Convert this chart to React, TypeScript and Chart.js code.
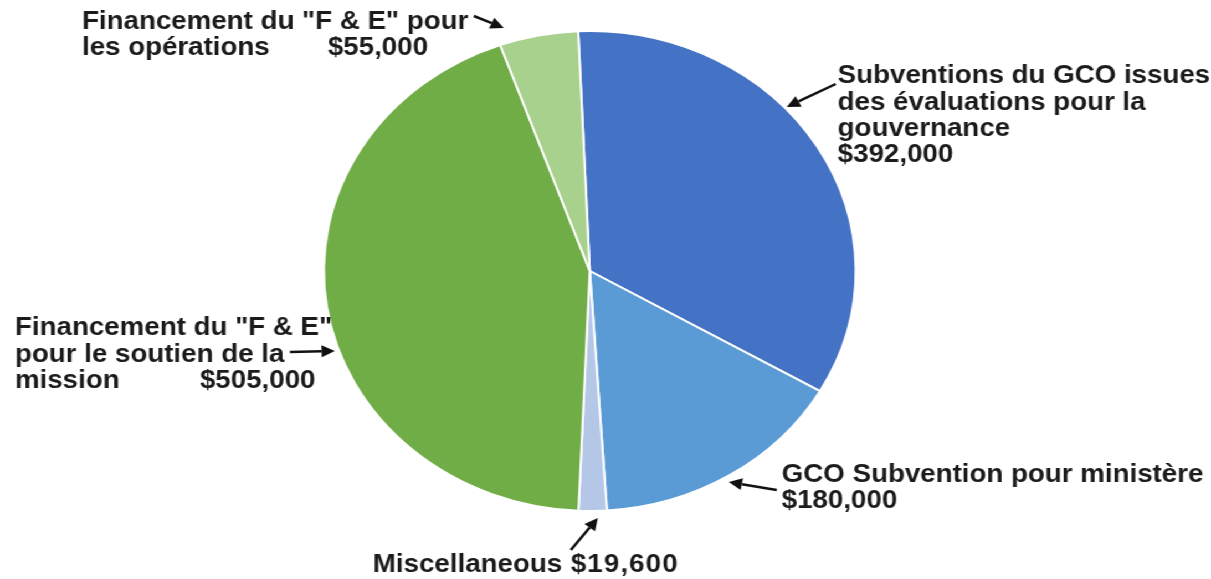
import React, { useEffect, useRef } from "react";
import { Chart, registerables } from "chart.js";

Chart.register(...registerables);

// ---- data ----
const categories = [
  "Subventions du GCO issues des évaluations pour la gouvernance",
  "GCO Subvention pour ministère",
  "Miscellaneous",
  'Financement du "F & E" pour le soutien de la mission',
  'Financement du "F & E" pour les opérations',
];
const values = [392000, 180000, 19600, 505000, 55000];
const sliceColors = ["#4472C4", "#5B9BD5", "#B4C7E7", "#70AD47", "#A9D18E"];

// label text lines per slice ({v} = formatted value)
const labelLines: string[][] = [
  ["Subventions du GCO issues", "des évaluations pour la", "gouvernance", "{v}"],
  ["GCO Subvention pour ministère", "{v}"],
  ["Miscellaneous"],
  ['Financement du "F & E"', "pour le soutien de la", "mission"],
  ['Financement du "F & E" pour', "les opérations"],
];

// ---- layout (image pixel space) ----
const VIEW_W = 1211;
const VIEW_H = 579;
const SX = 266 / 240; // horizontal stretch of the reference
const CW = Math.round(VIEW_W / SX);

type Txt = { x: number; y: number };
const labelPos: Txt[][] = [
  [
    { x: 838, y: 83 },
    { x: 838, y: 110 },
    { x: 838, y: 136 },
    { x: 838, y: 162 },
  ],
  [
    { x: 782, y: 482 },
    { x: 782, y: 508 },
  ],
  [{ x: 373, y: 572 }],
  [
    { x: 15, y: 335 },
    { x: 15, y: 362 },
    { x: 15, y: 388 },
  ],
  [
    { x: 82, y: 29 },
    { x: 82, y: 55 },
  ],
];
// value texts placed separately
const valueExtra: { idx: number; x: number; y: number; ls: number }[] = [
  { idx: 2, x: 571, y: 572, ls: 1 },
  { idx: 3, x: 200, y: 388, ls: 0 },
  { idx: 4, x: 328, y: 55, ls: 0 },
];
const arrows: number[][] = [
  [836, 84, 787, 107],
  [777, 490, 729, 482],
  [571, 550, 598, 518],
  [290, 352, 335, 351],
  [474, 16, 504, 28],
];

const fmt = (v: number) => "$" + v.toLocaleString("en-US");

const labelPlugin = {
  id: "calloutLabels",
  afterDraw(chart: any) {
    const ctx = chart.ctx as CanvasRenderingContext2D;
    ctx.save();
    ctx.fillStyle = "#1b1b1b";
    ctx.strokeStyle = "#111";
    ctx.font = 'bold 25px "Liberation Sans", Arial, sans-serif';
    ctx.textBaseline = "alphabetic";
    ctx.textAlign = "left";
    labelLines.forEach((lines, i) => {
      lines.forEach((t, j) => {
        const p = labelPos[i][j];
        const txt = t.replace("{v}", fmt(values[i]));
        ctx.fillText(txt, p.x / SX, p.y);
      });
    });
    valueExtra.forEach((e) => {
      (ctx as any).letterSpacing = e.ls + "px";
      ctx.fillText(fmt(values[e.idx]), e.x / SX, e.y);
    });
    (ctx as any).letterSpacing = "0px";
    // arrows
    arrows.forEach(([x1, y1, x2, y2]) => {
      const ax = x1 / SX, ay = y1, bx = x2 / SX, by = y2;
      const ang = Math.atan2(by - ay, bx - ax);
      const hl = 12, hw = 6;
      const baseX = bx - Math.cos(ang) * hl;
      const baseY = by - Math.sin(ang) * hl;
      ctx.lineWidth = 2.5;
      ctx.beginPath();
      ctx.moveTo(ax, ay);
      ctx.lineTo(baseX, baseY);
      ctx.stroke();
      ctx.beginPath();
      ctx.moveTo(bx, by);
      ctx.lineTo(baseX - Math.sin(ang) * hw, baseY + Math.cos(ang) * hw);
      ctx.lineTo(baseX + Math.sin(ang) * hw, baseY - Math.cos(ang) * hw);
      ctx.closePath();
      ctx.fillStyle = "#111";
      ctx.fill();
      ctx.fillStyle = "#1b1b1b";
    });
    ctx.restore();
  },
};

export default function App() {
  const ref = useRef<HTMLCanvasElement | null>(null);
  useEffect(() => {
    if (!ref.current) return;
    const cx = 590 / SX;
    const half = 241;
    const left = cx - half;
    const right = CW - (cx + half);
    const chart = new Chart(ref.current, {
      type: "pie",
      data: {
        labels: categories,
        datasets: [
          {
            data: values,
            backgroundColor: sliceColors,
            borderColor: "#ffffff",
            borderWidth: 2,
          },
        ],
      },
      options: {
        animation: false,
        responsive: false,
        devicePixelRatio: 1,
        rotation: -2.5,
        layout: { padding: { left, right, top: 30, bottom: VIEW_H - 30 - 482 } },
        plugins: {
          legend: { display: false },
          tooltip: { enabled: false },
          title: { display: false },
        },
      },
      plugins: [labelPlugin],
    });
    return () => chart.destroy();
  }, []);
  return (
    <div
      style={{
        position: "absolute",
        left: 0,
        top: 0,
        width: CW,
        height: VIEW_H,
        transform: `scaleX(${VIEW_W / CW})`,
        transformOrigin: "0 0",
        background: "#fff",
      }}
    >
      <canvas
        ref={ref}
        width={CW}
        height={VIEW_H}
        style={{ width: CW + "px", height: VIEW_H + "px", display: "block" }}
      />
    </div>
  );
}
